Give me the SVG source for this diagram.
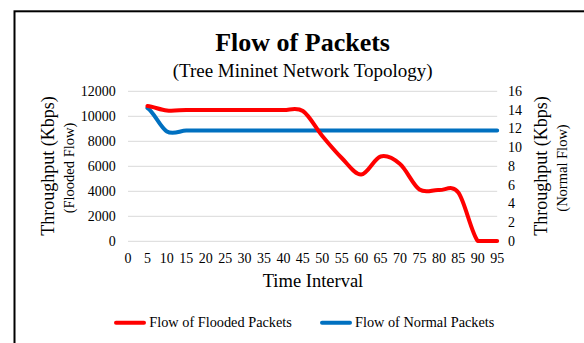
<svg xmlns="http://www.w3.org/2000/svg" width="584" height="343" viewBox="0 0 584 343">
<style>
text{font-family:"Liberation Serif","Times New Roman",serif;fill:#000}
.tick{font-size:14px}
.grid{stroke:#D9D9D9;stroke-width:1;fill:none}
.red{stroke:#FF0000;stroke-width:4;fill:none;stroke-linecap:round;stroke-linejoin:round}
.blue{stroke:#0070C0;stroke-width:4;fill:none;stroke-linecap:round;stroke-linejoin:round}
</style>
<rect x="0" y="0" width="584" height="343" fill="#fff"/>
<rect x="14.5" y="11.3" width="620" height="400" fill="#fff" stroke="#000" stroke-width="2"/>
<g id="title">
<text x="302.6" y="51" text-anchor="middle" font-size="26" font-weight="bold">Flow of Packets</text>
<text x="302.6" y="77" text-anchor="middle" font-size="19">(Tree Mininet Network Topology)</text>
</g>
<g id="gridlines" class="grid">
<line x1="128" y1="91.3" x2="497.2" y2="91.3"/>
<line x1="128" y1="116.3" x2="497.2" y2="116.3"/>
<line x1="128" y1="141.3" x2="497.2" y2="141.3"/>
<line x1="128" y1="166.3" x2="497.2" y2="166.3"/>
<line x1="128" y1="191.3" x2="497.2" y2="191.3"/>
<line x1="128" y1="216.3" x2="497.2" y2="216.3"/>
<line x1="128" y1="241.3" x2="497.2" y2="241.3"/>
</g>
<g id="left-axis" class="tick" text-anchor="end">
<text x="115.7" y="95.7">12000</text>
<text x="115.7" y="120.7">10000</text>
<text x="115.7" y="145.7">8000</text>
<text x="115.7" y="170.7">6000</text>
<text x="115.7" y="195.7">4000</text>
<text x="115.7" y="220.7">2000</text>
<text x="115.7" y="245.7">0</text>
</g>
<g id="right-axis" class="tick" text-anchor="start">
<text x="508" y="95.8">16</text>
<text x="508" y="114.55">14</text>
<text x="508" y="133.3">12</text>
<text x="508" y="152.05">10</text>
<text x="508" y="170.8">8</text>
<text x="508" y="189.55">6</text>
<text x="508" y="208.3">4</text>
<text x="508" y="227.05">2</text>
<text x="508" y="245.8">0</text>
</g>
<g id="x-axis" class="tick" text-anchor="middle">
<text x="128" y="262.5">0</text>
<text x="147.43" y="262.5">5</text>
<text x="166.86" y="262.5">10</text>
<text x="186.29" y="262.5">15</text>
<text x="205.72" y="262.5">20</text>
<text x="225.15" y="262.5">25</text>
<text x="244.58" y="262.5">30</text>
<text x="264.01" y="262.5">35</text>
<text x="283.44" y="262.5">40</text>
<text x="302.87" y="262.5">45</text>
<text x="322.3" y="262.5">50</text>
<text x="341.73" y="262.5">55</text>
<text x="361.16" y="262.5">60</text>
<text x="380.59" y="262.5">65</text>
<text x="400.02" y="262.5">70</text>
<text x="419.45" y="262.5">75</text>
<text x="438.88" y="262.5">80</text>
<text x="458.31" y="262.5">85</text>
<text x="477.74" y="262.5">90</text>
<text x="497.17" y="262.5">95</text>
</g>
<g id="axis-titles">
<text x="313" y="286.5" text-anchor="middle" font-size="18.5">Time Interval</text>
<text transform="translate(53.5,166) rotate(-90)" text-anchor="middle" font-size="18">Throughput (Kbps)</text>
<text transform="translate(73.5,168) rotate(-90)" text-anchor="middle" font-size="14.5">(Flooded Flow)</text>
<text transform="translate(547,166) rotate(-90)" text-anchor="middle" font-size="18">Throughput (Kbps)</text>
<text transform="translate(566.5,168) rotate(-90)" text-anchor="middle" font-size="14.5">(Normal Flow)</text>
</g>
<g id="series">
<path id="normal-flow" class="blue" d="M147.43,108 C153.9,111.9 160.38,127.75 166.86,131.5 C173.34,135.25 179.81,130.67 186.29,130.5 L497.17,130.5"/>
<path id="flooded-flow" class="red" d="M147.43,106 C153.9,106.75 160.38,109.83 166.86,110.5 C173.34,111.17 179.81,110.08 186.29,110 L283.44,110 C289.92,110.17 296.39,106.67 302.87,111 C309.35,115.33 315.82,128.17 322.3,136 C328.78,143.83 335.25,151.58 341.73,158 C348.21,164.42 354.68,174.75 361.16,174.5 C367.64,174.25 374.11,158.25 380.59,156.5 C387.07,154.75 393.54,158.5 400.02,164 C406.5,169.5 412.97,185.17 419.45,189.5 C425.93,193.83 432.4,189.5 438.88,190 C445.36,190.5 451.83,184 458.31,192.5 C464.79,201 471.26,232.92 477.74,241 L497.17,241"/>
</g>
<g id="legend">
<line class="red" x1="116" y1="322.7" x2="144" y2="322.7" stroke-linecap="butt"/>
<text x="149.3" y="327.3" font-size="14.3">Flow of Flooded Packets</text>
<line class="blue" x1="322" y1="322.7" x2="350" y2="322.7" stroke-linecap="butt"/>
<text x="355" y="327.3" font-size="14.3">Flow of Normal Packets</text>
</g>
</svg>
